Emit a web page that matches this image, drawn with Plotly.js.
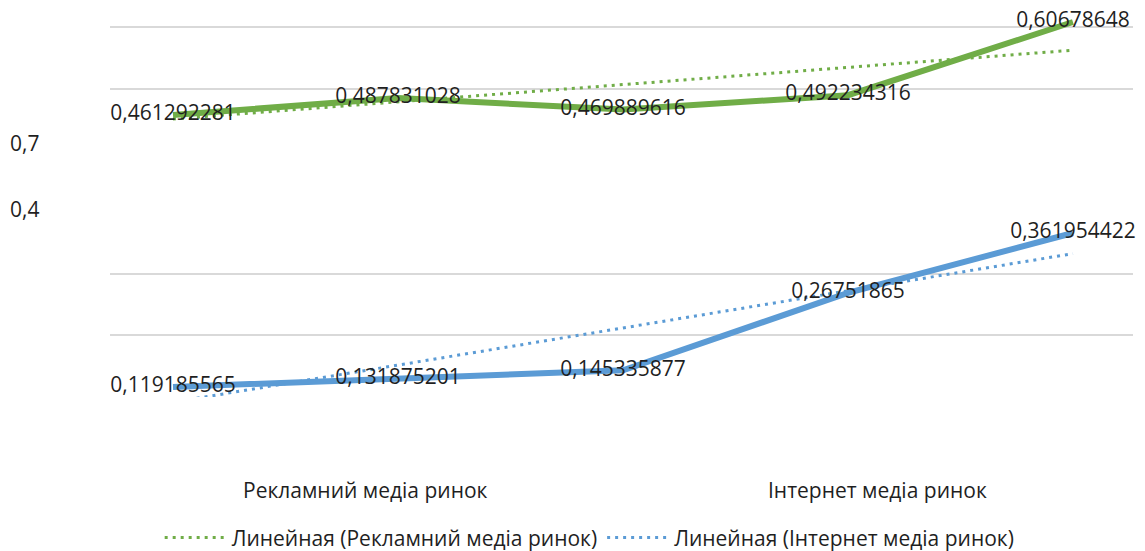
<!DOCTYPE html>
<html>
<head>
<meta charset="utf-8">
<script src="https://cdn.plot.ly/plotly-3.0.1.min.js"></script>
<style>
  html, body { margin: 0; padding: 0; background: #ffffff; }
  #chart { width: 1145px; height: 551px; }
</style>
</head>
<body>
<div id="chart"></div>
<script>
// Periods along the horizontal axis (five points per market)
const periods = [0, 1, 2, 3, 4];

// Share values per market
const adMarket = [0.461292281, 0.487831028, 0.469889616, 0.492234316, 0.60678648];
const webMarket = [0.119185565, 0.131875201, 0.145335877, 0.26751865, 0.361954422];

// Linear trend end points (first and last period)
const trendX = [0, 4];
const adTrend = [0.455, 0.5627];
const webTrend = [0.095, 0.3294];

// Category names and the two remaining value-axis labels
const categories = ['Рекламний медіа ринок', 'Інтернет медіа ринок'];
const axisLabels = ['0,7', '0,4'];
const trendNames = ['Линейная (Рекламний медіа ринок)', 'Линейная (Інтернет медіа ринок)'];

const GREEN = '#70AD47';
const BLUE = '#5B9BD5';
const FONT = 'Open Sans, Noto Sans, sans-serif';
const TXT = '#1f1f1f';

const fmt = v => String(v).replace('.', ',');

const traces = [
  {
    x: trendX, y: adTrend, yaxis: 'y', type: 'scatter', mode: 'lines',
    name: trendNames[0],
    line: { color: GREEN, width: 3, dash: '3px,5px' },
    hoverinfo: 'skip'
  },
  {
    x: trendX, y: webTrend, yaxis: 'y2', type: 'scatter', mode: 'lines',
    name: trendNames[1],
    line: { color: BLUE, width: 3, dash: '3px,5px' },
    hoverinfo: 'skip'
  },
  {
    x: periods, y: adMarket, yaxis: 'y', type: 'scatter', mode: 'lines+text',
    showlegend: false,
    line: { color: GREEN, width: 6 },
    text: adMarket.map(fmt), textposition: 'middle center',
    textfont: { family: FONT, size: 21, color: TXT },
    cliponaxis: false
  },
  {
    x: periods, y: webMarket, yaxis: 'y2', type: 'scatter', mode: 'lines+text',
    showlegend: false,
    line: { color: BLUE, width: 6 },
    text: webMarket.map(fmt), textposition: 'middle center',
    textfont: { family: FONT, size: 21, color: TXT },
    cliponaxis: false
  }
];

// Value ranges for the two overlaid scales
const adRange = [0.01995, 0.62558];
const webRange = [0.10328, 0.71369];
// Gridline spacing expressed on the first scale
const gridStep = 0.09651;
const gridIdx = [0, 1, 2, 5, 6];

const annotations = [];
categories.forEach((c, i) => {
  annotations.push({
    xref: 'paper', yref: 'paper', x: 0.25 + 0.5 * i, y: -0.240,
    xanchor: 'center', yanchor: 'middle', showarrow: false,
    text: c, font: { family: FONT, size: 21, color: TXT }
  });
});
const labelY = [0.656, 0.486];
axisLabels.forEach((t, i) => {
  annotations.push({
    xref: 'paper', yref: 'paper', x: -0.0998, y: labelY[i],
    xanchor: 'left', yanchor: 'middle', showarrow: false,
    text: t, font: { family: FONT, size: 21, color: TXT }
  });
});

const layout = {
  width: 1145, height: 551,
  margin: { l: 110, r: 12, t: 10, b: 154 },
  paper_bgcolor: '#ffffff', plot_bgcolor: '#ffffff',
  showlegend: true,
  xaxis: {
    range: [-0.28, 4.267], showgrid: false, zeroline: false,
    showticklabels: false, ticks: '', showline: false, fixedrange: true
  },
  yaxis: {
    range: adRange, showgrid: true, gridcolor: '#d9d9d9', gridwidth: 2,
    tickmode: 'array', tickvals: gridIdx.map(k => adRange[0] + k * gridStep),
    showticklabels: false, ticks: '', zeroline: false, showline: false, fixedrange: true
  },
  yaxis2: {
    range: webRange, overlaying: 'y', side: 'left', showgrid: false,
    showticklabels: false, ticks: '', zeroline: false, showline: false, fixedrange: true
  },
  legend: {
    orientation: 'h', xref: 'container', yref: 'container',
    x: 0.515, xanchor: 'center', y: 0.024, yanchor: 'middle',
    itemwidth: 62, font: { family: FONT, size: 21, color: TXT },
    bgcolor: 'rgba(0,0,0,0)', borderwidth: 0
  },
  annotations: annotations
};

Plotly.newPlot('chart', traces, layout, { displayModeBar: false, staticPlot: true });
</script>
</body>
</html>
